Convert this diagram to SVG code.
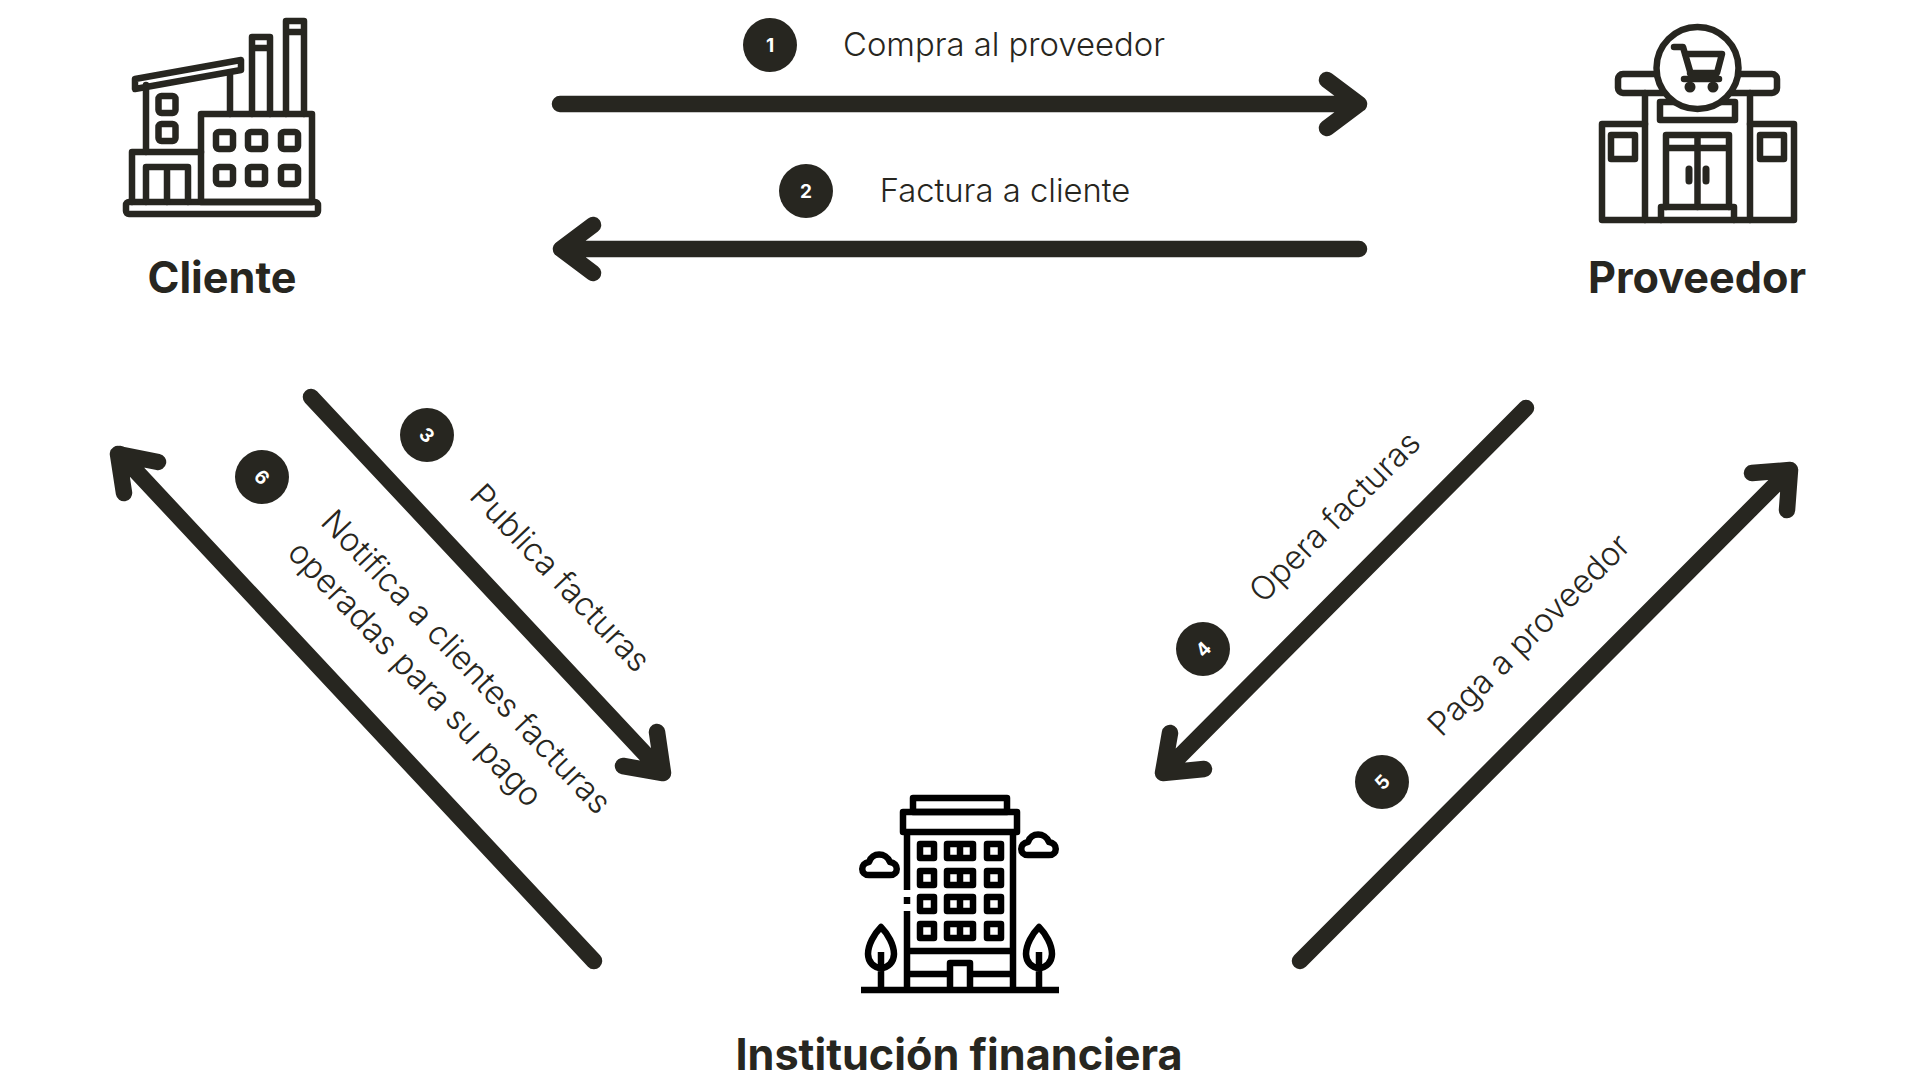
<svg xmlns="http://www.w3.org/2000/svg" width="1920" height="1080" viewBox="0 0 1920 1080">
<style>
.ic{fill:none;stroke:#272620;stroke-width:6.500;stroke-linejoin:round;stroke-linecap:round}
.wf{fill:#fff}
.bk{fill:none;stroke:#000;stroke-width:6.500;stroke-linejoin:round}
.ar{fill:none;stroke:#272620;stroke-width:16.500;stroke-linecap:round;stroke-linejoin:round}
.n{font-family:Inter,"Liberation Sans",sans-serif;font-weight:700;font-size:43.200px;fill:#272620;text-anchor:middle}
.t{font-family:Inter,"Liberation Sans",sans-serif;font-weight:300;font-size:32.800px;fill:#272620;text-anchor:middle}
.d{font-family:Inter,"Liberation Sans",sans-serif;font-weight:700;font-size:19px;fill:#fff;text-anchor:middle}
.c{fill:#272620}
</style>
<rect width="1920" height="1080" fill="#fff"/>
<g id="connectors">
<path class="ar" d="M560 104H1359M1327 80L1359 104L1327 128"/>
<path class="ar" d="M1359 249H561M593 225L561 249L593 273"/>
<path class="ar" d="M311 397L663 773M657 732L663 773L623 766"/>
<path class="ar" d="M594 961L120 454M158 462L118 454L124 493"/>
<path class="ar" d="M1526 408L1163 773M1204 769L1163 773L1170 733"/>
<path class="ar" d="M1300 961L1790 470M1752 473L1790 470L1787 510"/>
</g>
<g id="node-cliente">
<g class="ic">
<rect x="126" y="202" width="192" height="12" rx="3"/>
<path d="M132 202V152H201"/>
<path d="M146 152V85M230 75V114"/>
<path d="M135 79L241 60V70L135 89Z"/>
<rect x="201" y="114" width="111" height="88"/>
<rect x="158.500" y="96" width="17" height="17" rx="3"/>
<rect x="158.500" y="124" width="17" height="17" rx="3"/>
<rect x="216" y="132" width="17" height="17" rx="3"/><rect x="248" y="132" width="17" height="17" rx="3"/><rect x="281" y="132" width="17" height="17" rx="3"/>
<rect x="216" y="167" width="17" height="17" rx="3"/><rect x="248" y="167" width="17" height="17" rx="3"/><rect x="281" y="167" width="17" height="17" rx="3"/>
<path d="M146 202V167H188V202M167 167V202"/>
<path d="M252 114V37H270V114M252 48H270"/>
<path d="M286 114V21H304V114M286 32H304"/>
</g>
<text class="n" x="222" y="293">Cliente</text>
</g>
<g id="node-proveedor">
<g class="ic">
<rect x="1618" y="74" width="159" height="19" rx="5"/>
<rect x="1660" y="102" width="75" height="18"/>
<path d="M1645 93V220M1750 93V220"/>
<path d="M1645 124H1602V220H1794V124H1750"/>
<rect x="1611" y="135" width="24" height="24"/>
<rect x="1760" y="135" width="24" height="24"/>
<path d="M1666 207V135H1729V207M1666 148H1729M1697.500 135V207"/>
<path d="M1689 169V181M1706 169V181" stroke-width="7"/>
<path d="M1661 220V207H1734V220"/>
<circle class="wf" cx="1697.500" cy="68" r="41"/>
<path d="M1674 47H1683L1692 78M1685 54H1722L1717 73H1690M1684 79H1719"/>
</g>
<circle class="c" cx="1690" cy="87" r="5.500"/><circle class="c" cx="1713" cy="87" r="5.500"/>
<text class="n" x="1697" y="293">Proveedor</text>
</g>
<g id="node-institucion">
<g class="bk">
<rect x="913" y="798" width="94" height="14"/>
<rect x="903" y="812" width="114" height="20"/>
<path d="M907 832V890M907 897V904M907 911V990M1013 832V990"/>
<path d="M907 951H1013M907 974H950M970 974H1013"/>
<path d="M950 990V963H970V990"/>
<path d="M861 990H1059"/>
<rect x="920" y="844" width="14" height="14"/><rect x="947" y="844" width="26" height="14"/><rect x="987" y="844" width="14" height="14"/>
<rect x="920" y="871" width="14" height="14"/><rect x="947" y="871" width="26" height="14"/><rect x="987" y="871" width="14" height="14"/>
<rect x="920" y="897" width="14" height="14"/><rect x="947" y="897" width="26" height="14"/><rect x="987" y="897" width="14" height="14"/>
<rect x="920" y="924" width="14" height="14"/><rect x="947" y="924" width="26" height="14"/><rect x="987" y="924" width="14" height="14"/>
<path d="M960 844V858M960 871V885M960 897V911M960 924V938"/>
<path d="M881 952V990M881 927C874 934 868 945 868 954C868 962 874 968 881 968C888 968 894 962 894 954C894 945 888 934 881 927Z"/>
<path d="M1039 952V990M1039 927C1032 934 1026 945 1026 954C1026 962 1032 968 1039 968C1046 968 1052 962 1052 954C1052 945 1046 934 1039 927Z"/>
<path d="M869 875C860 875 860 863 869 862C872 852 886 852 890 862C899 863 899 875 890 875Z"/>
<path d="M1028 855C1019 855 1019 843 1028 842C1031 832 1045 832 1049 842C1058 843 1058 855 1049 855Z"/>
</g>
<text class="n" x="959" y="1070">Institución financiera</text>
</g>
<g id="label-1"><circle class="c" cx="770" cy="45" r="27"/><text class="d" x="770" y="52">1</text><text class="t" x="1004" y="56">Compra al proveedor</text></g>
<g id="label-2"><circle class="c" cx="806" cy="191" r="27"/><text class="d" x="806" y="198">2</text><text class="t" x="1005" y="202">Factura a cliente</text></g>
<g id="label-3"><circle class="c" cx="427" cy="435" r="27"/><text class="d" transform="translate(427 435) rotate(47)" y="7">3</text><text class="t" transform="translate(560 578) rotate(46.500)" y="11">Publica facturas</text></g>
<g id="label-6"><circle class="c" cx="262" cy="477" r="27"/><text class="d" transform="translate(262 477) rotate(47)" y="7">6</text>
<text class="t" transform="translate(466 662) rotate(46.500)" y="11">Notifica a clientes facturas</text>
<text class="t" transform="translate(415 674) rotate(46.500)" y="11">operadas para su pago</text></g>
<g id="label-4"><circle class="c" cx="1203" cy="649" r="27"/><text class="d" transform="translate(1203 649) rotate(-45)" y="7">4</text><text class="t" transform="translate(1335 517) rotate(-45)" y="11">Opera facturas</text></g>
<g id="label-5"><circle class="c" cx="1382" cy="782" r="27"/><text class="d" transform="translate(1382 782) rotate(-45)" y="7">5</text><text class="t" transform="translate(1529 635) rotate(-45)" y="11">Paga a proveedor</text></g>
</svg>
